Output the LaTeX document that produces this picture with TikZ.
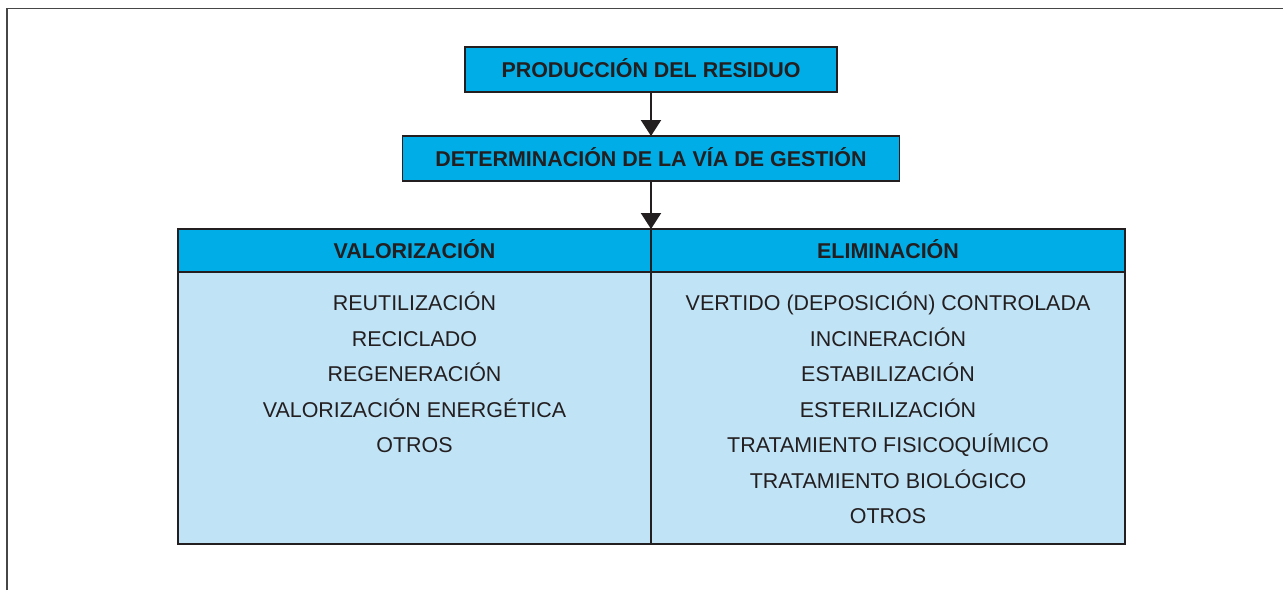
\documentclass[tikz,border=0pt]{standalone}
\usepackage{fontspec}
\setmainfont{Liberation Sans}
\usetikzlibrary{positioning,arrows.meta}
\definecolor{headcyan}{RGB}{0,173,231}
\definecolor{cellblue}{RGB}{193,227,246}
\definecolor{inkdark}{RGB}{35,31,32}
\definecolor{framegray}{RGB}{70,70,70}
\tikzset{
  cell/.style={draw=inkdark, line width=0.8pt, outer sep=0pt, inner sep=0pt},
  headbox/.style={cell, fill=headcyan, text=inkdark, font=\fontsize{12.2}{14}\selectfont\bfseries,
    text height=8.7pt, text depth=0pt},
  bodybox/.style={cell, fill=cellblue},
  item/.style={text=inkdark, font=\fontsize{12.2}{14}\selectfont, inner sep=0pt,
    text height=8.7pt, text depth=0pt},
  flow/.style={draw=inkdark, line width=1.2pt, -{Triangle[width=0.4cm, length=0.32cm]}}
}
\begin{document}
\begin{tikzpicture}
		\useasboundingbox (0, 0) rectangle (25.66, -11.8);
		%%%%% FRAME %%%%%
		\draw[framegray, line width=1.1pt] (0.14, -11.8) -- (0.14, -0.17) -- (25.66, -0.17);
		
		\node[headbox, minimum width=7.44cm, minimum height=0.9cm] (prod) at (13.02, -1.39) {PRODUCCIÓN DEL RESIDUO};
		\node[headbox, minimum width=9.94cm, minimum height=0.9cm, below=0.88cm of prod] (via) {DETERMINACIÓN DE LA VÍA DE GESTIÓN};
		
		\node[headbox, minimum width=9.46cm, minimum height=0.86cm] (hdrL) at (8.29, -5.01) {VALORIZACIÓN};
		\node[headbox, minimum width=9.48cm, minimum height=0.86cm, right=0cm of hdrL] (hdrR) {ELIMINACIÓN};
		\node[bodybox, minimum width=9.46cm, minimum height=5.44cm, below=0cm of hdrL] (bodyL) {};
		\node[bodybox, minimum width=9.48cm, minimum height=5.44cm, below=0cm of hdrR] (bodyR) {};
		
		\draw[flow] (prod) -- (via);
		\draw[flow] (via.south -| hdrL.north east) -- (hdrL.north east);
		
		\foreach \txt [count=\i from 0] in {{REUTILIZACIÓN}, {RECICLADO}, {REGENERACIÓN},
		    {VALORIZACIÓN ENERGÉTICA}, {OTROS}}
		  \node[item] (val\i) at ([yshift={-0.62cm-0.71cm*\i}]bodyL.north) {\txt};
		
		\foreach \txt [count=\i from 0] in {{VERTIDO (DEPOSICIÓN) CONTROLADA}, {INCINERACIÓN},
		    {ESTABILIZACIÓN}, {ESTERILIZACIÓN}, {TRATAMIENTO FISICOQUÍMICO},
		    {TRATAMIENTO BIOLÓGICO}, {OTROS}}
		  \node[item] (eli\i) at ([yshift={-0.62cm-0.71cm*\i}]bodyR.north) {\txt};
		%%%%% END %%%%%
	\end{tikzpicture}
\end{document}
